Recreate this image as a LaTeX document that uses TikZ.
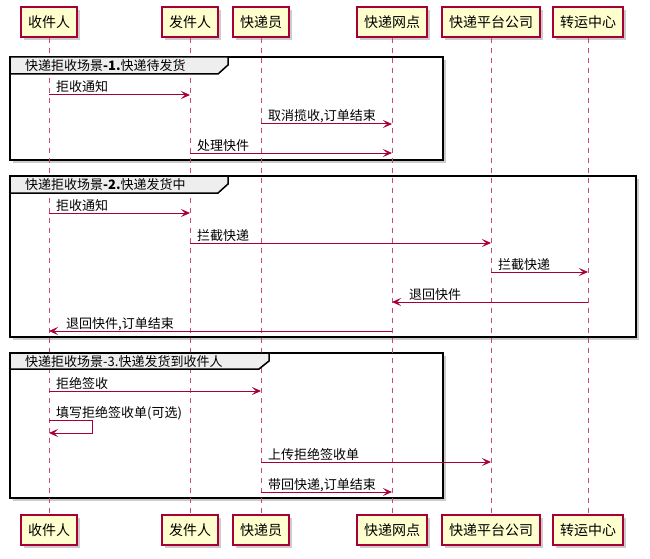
\documentclass[tikz,border=0pt]{standalone}
\usepackage{fontspec}
\setmainfont{Noto Sans CJK SC}
\usetikzlibrary{arrows.meta,shadows,calc}
\definecolor{umlred}{HTML}{A80036}
\definecolor{umlbox}{HTML}{FEFECE}
\definecolor{umltab}{HTML}{EEEEEE}

\begin{document}
\begin{tikzpicture}[x=1pt, y=-1pt, >={Stealth[length=9pt,width=8pt,inset=4pt]},
	actor/.style={draw=umlred, fill=umlbox, line width=1.1pt, minimum height=30pt, inner xsep=7pt,
		font=\fontsize{14}{16}\selectfont, drop shadow={shadow xshift=3pt, shadow yshift=-3pt, opacity=.4}},
	life/.style={umlred!70, line width=1pt, dash pattern=on 5pt off 5pt},
	msg/.style={->, umlred, line width=1pt},
	msglabel/.style={font=\fontsize{13}{15}\selectfont, inner sep=0pt, anchor=base west},
	grp/.style={line width=1.5pt, fill=white, drop shadow={shadow xshift=3pt, shadow yshift=-3pt, opacity=.4}},
	grptab/.style={line width=1.5pt, fill=umltab},
	grplabel/.style={font=\fontsize{13}{15}\selectfont, inner sep=0pt, anchor=west}]
	\useasboundingbox (0,0) rectangle (650,559);
	
	% participants, top and bottom
	\foreach \n/\x/\t in {recv/49/收件人, send/190/发件人, cour/261/快递员, site/392/快递网点, plat/491/快递平台公司, hub/588/转运中心} {
		\node[actor] (\n-top) at (\x,22) {\t};
		\node[actor] (\n-bot) at (\x,530) {\t};
	}
	
	% groups
	\draw[grp] (10,57) rectangle (443,160);
	\draw[grp] (10,176) rectangle (636,337);
	\draw[grp] (10,353) rectangle (443,498);
	
	\foreach \n in {recv,send,cour,site,plat,hub}
		\draw[life] (\n-top) -- (\n-bot);
	
	\draw[grptab] (10,57) -- (228,57) -- (228,65) -- (218,74) -- (10,74) -- cycle;
	\node[grplabel] (g1) at (25,66) {快递拒收场景\textbf{-1.}快递待发货};
	\draw[grptab] (10,176) -- (228,176) -- (228,184) -- (218,193) -- (10,193) -- cycle;
	\node[grplabel] (g2) at (25,185) {快递拒收场景\textbf{-2.}快递发货中};
	\draw[grptab] (10,353) -- (269,353) -- (269,361) -- (259,369) -- (10,369) -- cycle;
	\node[grplabel] (g3) at (25,362) {快递拒收场景-3.快递发货到收件人};
	
	% messages to the right
	\foreach \i/\a/\b/\y/\t in {1/recv/send/95/拒收通知, 2/cour/site/124/{取消揽收,订单结束}, 3/send/site/153/处理快件,
		4/recv/send/213/拒收通知, 5/send/plat/243/拦截快递, 6/plat/hub/272/拦截快递,
		9/recv/cour/391/拒绝签收, 11/cour/plat/462/上传拒绝签收单, 12/cour/site/492/{带回快递,订单结束}} {
		\draw[msg] (\a-top |- 0,\y) -- (\b-top |- 0,\y);
		\node[msglabel] (m\i) at ($(\a-top |- 0,\y)+(7,-3)$) {\t};
	}
	
	% messages to the left
	\foreach \i/\a/\b/\y/\t in {7/hub/site/302/退回快件, 8/site/recv/331/{退回快件,订单结束}} {
		\draw[msg] (\a-top |- 0,\y) -- (\b-top |- 0,\y);
		\node[msglabel] (m\i) at ($(\b-top |- 0,\y)+(17,-3)$) {\t};
	}
	
	% self message
	\draw[msg] (recv-top |- 0,420) -- ++(43,0) -- ++(0,13) -- (recv-top |- 0,433);
	\node[msglabel] (m10) at ($(recv-top |- 0,420)+(7,-3)$) {填写拒绝签收单(可选)};
	
\end{tikzpicture}
\end{document}
